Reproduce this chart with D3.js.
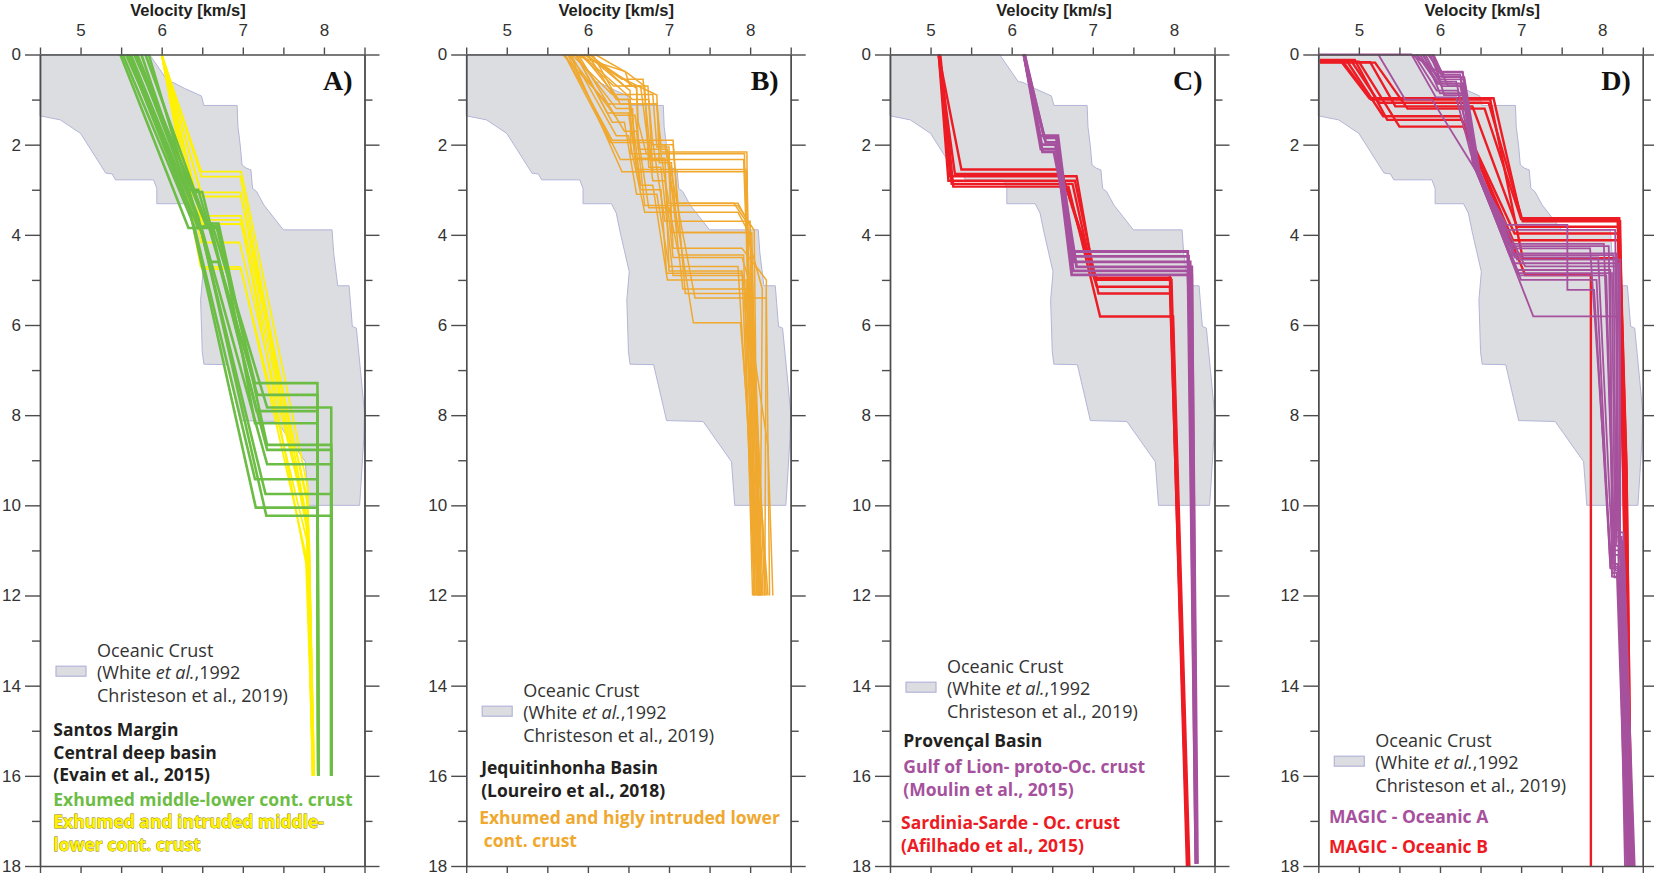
<!DOCTYPE html>
<html>
<head>
<meta charset="utf-8">
<script src="https://cdn.jsdelivr.net/npm/d3@7/dist/d3.min.js"></script>
<style>
html, body { margin: 0; padding: 0; background: #fff; }
svg text { font-family: "Open Sans", "Liberation Sans", sans-serif; }
</style>
</head>
<body>
<svg id="drawing_region" width="1654" height="878"></svg>
<script>
// axis ticks
const velocityTicks = [5, 6, 7, 8];
const depthTicks = [0, 2, 4, 6, 8, 10, 12, 14, 16, 18];
const panelLetters = ["A)", "B)", "C)", "D)"];

// oceanic crust envelope [velocity, depth] (White et al. 1992, Christeson et al. 2019)
const oceanicCrust = [
    [4.5,0],[5.85,0],[6.08,0.6],[6.14,0.62],[6.28,0.75],[6.49,0.92],[6.52,1.13],[6.93,1.13],
    [6.94,1.6],[6.97,2.04],[6.99,2.45],[7.04,2.52],[7.1,2.56],[7.12,2.97],[7.17,3.04],[7.26,3.34],
    [7.5,3.89],[8.1,3.89],[8.12,4.4],[8.17,5.13],[8.31,5.13],[8.35,6.03],[8.4,6.07],[8.45,7.0],
    [8.5,7.95],[8.49,8.55],[8.47,9.14],[8.45,9.72],[8.44,10.0],[7.81,10.0],[7.77,9.03],[7.42,8.14],
    [6.97,8.12],[6.81,6.88],[6.52,6.87],[6.5,6.59],[6.48,5.44],[6.51,4.82],[6.4,3.96],[6.35,3.52],
    [6.29,3.31],[5.94,3.31],[5.94,2.97],[5.9,2.78],[5.43,2.78],[5.39,2.65],[5.31,2.63],[5.0,1.75],
    [4.75,1.45],[4.5,1.36]
];

// A) Santos margin - exhumed middle-lower continental crust
const santosGreen = [
    [[5.49,0],[6.33,3.85],[6.68,3.85],[7.15,7.29],[7.92,7.29],[7.93,16]],
    [[5.56,0],[6.30,3.0],[6.45,3.0],[7.18,7.55],[7.92,7.55],[7.93,16]],
    [[5.60,0],[6.45,3.85],[6.62,3.75],[7.30,7.83],[8.09,7.83],[8.09,16]],
    [[5.66,0],[6.40,3.05],[6.50,3.05],[7.17,7.91],[7.92,7.91],[7.93,16]],
    [[5.70,0],[6.55,3.8],[6.70,3.8],[7.15,8.18],[7.92,8.18],[7.93,16]],
    [[5.80,0],[6.55,3.75],[6.70,3.75],[7.30,8.66],[8.09,8.66],[8.09,16]],
    [[5.84,0],[6.60,4.6],[6.70,4.6],[7.30,8.77],[8.09,8.77],[8.09,16]],
    [[5.62,0],[6.50,3.9],[7.30,9.09],[8.09,9.09],[8.09,16]],
    [[5.52,0],[6.40,3.8],[7.15,9.42],[7.92,9.42],[7.93,16]],
    [[5.75,0],[6.50,4.0],[7.28,9.75],[8.09,9.75],[8.09,16]],
    [[5.58,0],[6.35,3.5],[7.16,10.05],[7.92,10.05],[7.93,16]],
    [[5.68,0],[6.45,3.6],[7.29,10.23],[8.09,10.23],[8.09,16]]
];
// A) Santos margin - exhumed and intruded middle-lower continental crust
const santosYellow = [
    [[6.0,0],[6.49,2.6],[6.98,2.6],[7.80,9.6],[7.87,16]],
    [[6.0,0],[6.49,2.71],[6.97,2.71],[7.78,10.2],[7.86,16]],
    [[6.0,0],[6.48,3.06],[6.97,3.06],[7.80,10.0],[7.88,16]],
    [[6.0,0],[6.50,3.15],[6.98,3.15],[7.82,10.8],[7.87,16]],
    [[6.0,0],[6.49,3.58],[6.98,3.58],[7.79,9.8],[7.86,16]],
    [[6.0,0],[6.48,3.67],[6.97,3.67],[7.81,10.5],[7.88,16]],
    [[6.0,0],[6.50,3.76],[6.99,3.76],[7.78,11.3],[7.87,16]],
    [[6.0,0],[6.49,4.17],[6.96,4.17],[7.80,10.4],[7.86,16]],
    [[6.0,0],[6.48,4.71],[6.97,4.71],[7.82,11.0],[7.88,16]],
    [[6.0,0],[6.50,4.76],[6.98,4.76],[7.79,11.2],[7.87,16]]
];

// B) Jequitinhonha basin - exhumed and highly intruded lower continental crust
const jequitinhonha = [
    [[5.69,0],[6.25,1.1],[6.85,1.1],[6.9,2.16],[7.96,2.16],[7.97,4.0],[8.08,12]],
    [[5.72,0],[6.30,1.9],[7.05,1.9],[7.10,3.3],[7.85,3.3],[8.0,3.8],[8.10,12]],
    [[5.75,0],[6.40,2.33],[7.92,2.33],[7.95,3.9],[8.15,5.2],[8.12,12]],
    [[5.78,0],[6.42,2.6],[7.96,2.6],[7.98,4.5],[8.06,12]],
    [[5.80,0],[6.30,0.89],[6.80,0.89],[6.85,2.05],[7.0,2.05],[7.03,3.95],[8.0,3.95],[8.14,12]],
    [[5.82,0],[6.46,0.38],[6.52,0.7],[6.74,0.7],[6.80,2.6],[7.0,2.6],[7.05,4.3],[7.90,4.3],[8.20,5.0],[8.18,12]],
    [[5.84,0],[6.35,1.2],[6.55,1.2],[6.58,2.3],[6.95,2.3],[7.0,4.8],[7.9,4.8],[8.05,12]],
    [[5.86,0],[6.24,1.3],[6.50,1.3],[6.65,3.0],[6.90,3.0],[6.97,4.85],[7.90,4.85],[8.22,8.7],[8.28,12]],
    [[5.88,0],[6.45,1.7],[6.60,1.7],[6.70,3.35],[7.85,3.35],[8.05,3.9],[8.10,12]],
    [[5.90,0],[6.32,0.7],[6.60,0.7],[6.62,2.1],[6.98,2.1],[7.17,5.2],[8.0,5.2],[8.2,12]],
    [[5.92,0],[6.55,1.0],[6.75,1.0],[6.80,2.0],[6.95,2.0],[7.3,5.95],[7.88,5.95],[8.15,12]],
    [[5.95,0],[6.5,0.6],[6.85,0.9],[6.88,2.4],[7.03,2.4],[7.10,3.95],[8.02,3.95],[8.12,12]],
    [[5.98,0],[6.52,0.8],[6.53,2.2],[6.9,2.2],[7.0,3.3],[7.80,3.3],[7.95,3.7],[8.05,12]],
    [[6.00,0],[6.35,1.0],[6.50,1.0],[6.60,2.55],[7.95,2.55],[7.97,4.2],[8.09,12]],
    [[6.03,0],[6.45,0.7],[6.65,0.7],[6.80,2.8],[6.95,2.8],[7.05,4.5],[7.9,4.5],[8.0,5.1],[8.16,12]],
    [[6.06,0],[6.4,1.1],[6.85,1.1],[6.9,2.0],[7.05,2.0],[7.2,5.3],[7.95,5.3],[8.22,12]],
    [[6.09,0],[6.48,0.4],[6.70,0.7],[6.75,2.5],[6.90,2.5],[7.05,4.9],[7.92,4.9],[8.12,12]],
    [[5.85,0],[6.3,1.5],[6.45,1.5],[6.6,3.1],[6.85,3.1],[7.0,4.7],[7.85,4.7],[8.10,12]],
    [[5.79,0],[6.35,1.8],[6.5,1.8],[6.7,3.5],[7.85,3.5],[8.0,4.0],[8.18,12]],
    [[5.93,0],[6.38,1.0],[6.52,1.0],[6.65,2.9],[6.80,2.9],[6.98,5.0],[7.95,5.0],[8.05,12]],
    [[5.71,0],[6.28,1.95],[6.8,1.95],[6.95,3.7],[8.0,3.7],[8.06,12]],
    [[6.01,0],[6.6,0.75],[6.62,1.5],[6.72,2.2],[7.93,2.2],[7.95,3.6],[8.13,12]],
    [[5.76,0],[6.33,1.35],[6.58,1.35],[6.75,3.4],[7.0,3.4],[7.12,4.45],[7.92,4.45],[8.03,12]],
    [[5.96,0],[6.42,0.55],[6.68,0.55],[6.78,2.35],[7.0,2.35],[7.32,5.4],[8.2,5.4],[8.24,12]]
];

// C) Provencal basin
const gulfOfLion = [
    [[6.15,0],[6.35,1.8],[6.57,1.8],[6.75,4.37],[8.17,4.37],[8.27,17.95]],
    [[6.15,0],[6.38,2.16],[6.52,2.16],[6.78,4.48],[8.18,4.48],[8.27,17.95]],
    [[6.16,0],[6.40,1.85],[6.55,1.85],[6.80,4.71],[8.22,4.71],[8.28,17.95]],
    [[6.15,0],[6.36,2.1],[6.55,2.1],[6.74,4.89],[8.22,4.89],[8.29,17.95]],
    [[6.15,0],[6.42,1.95],[6.56,1.95],[6.77,4.6],[8.2,4.6],[8.28,17.95]],
    [[6.16,0],[6.37,2.0],[6.54,2.0],[6.76,4.8],[8.21,4.8],[8.28,17.95]]
];
const sardinia = [
    [[5.10,0],[5.38,2.55],[6.60,2.55],[7.05,5.0],[7.97,5.0],[8.18,18]],
    [[5.10,0],[5.30,2.65],[6.62,2.65],[7.05,5.15],[7.95,5.15],[8.17,18]],
    [[5.11,0],[5.24,2.7],[6.80,2.7],[7.02,4.96],[7.96,4.96],[8.18,18]],
    [[5.10,0],[5.22,2.8],[6.78,2.8],[7.07,5.3],[7.96,5.3],[8.17,18]],
    [[5.12,0],[5.28,2.93],[6.70,2.93],[7.09,5.81],[7.99,5.81],[8.19,18]],
    [[5.10,0],[5.26,2.87],[6.75,2.87],[7.0,4.9],[7.95,4.9],[8.16,18]]
];

// D) MAGIC profiles
const magicA = [
    [[4.5,0],[5.65,0],[5.97,0.38],[6.28,0.38],[6.45,2.5],[6.85,4.41],[8.18,4.41],[8.18,10.55],[8.22,10.55],[8.33,18]],
    [[5.24,0],[5.57,1.0],[5.9,1.0],[6.45,2.6],[6.9,4.63],[8.2,4.63],[8.17,10.9],[8.23,10.9],[8.35,18]],
    [[5.70,0],[5.99,0.49],[6.25,0.49],[6.42,2.5],[6.82,3.78],[7.57,3.78],[7.57,5.22],[7.9,5.22],[8.1,11.36],[8.2,11.36],[8.3,18]],
    [[5.75,0],[5.98,0.64],[6.29,0.64],[6.40,2.4],[6.95,4.78],[8.10,4.78],[8.12,11.58],[8.2,11.58],[8.32,18]],
    [[5.80,0],[6.0,0.86],[6.3,0.86],[6.45,2.6],[7.0,5.0],[7.93,5.0],[8.1,11.4],[8.22,11.4],[8.34,18]],
    [[5.85,0],[6.05,0.45],[6.25,0.45],[6.5,2.8],[7.15,5.81],[8.18,5.81],[8.2,10.8],[8.25,10.8],[8.36,18]],
    [[5.88,0],[6.0,0.55],[6.3,0.55],[6.45,2.45],[6.85,4.2],[8.02,4.2],[8.15,11.0],[8.22,11.0],[8.38,18]],
    [[5.90,0],[6.02,0.4],[6.28,0.4],[6.42,2.3],[6.9,4.3],[7.85,4.3],[8.12,11.5],[8.18,11.5],[8.3,18]],
    [[5.92,0],[6.1,0.7],[6.25,0.7],[6.48,2.6],[6.95,4.55],[8.22,4.55],[8.22,10.6],[8.26,10.6],[8.4,18]],
    [[5.65,0],[5.95,0.95],[6.2,0.95],[6.38,2.2],[6.8,3.89],[8.16,3.89],[8.2,11.0],[8.28,18]],
    [[5.78,0],[6.0,0.6],[6.2,0.6],[6.44,2.5],[6.92,4.5],[7.95,4.5],[8.13,11.3],[8.19,11.3],[8.33,18]],
    [[5.82,0],[6.02,0.7],[6.27,0.7],[6.46,2.55],[6.98,4.9],[8.05,4.9],[8.15,11.6],[8.21,11.6],[8.35,18]],
    [[5.68,0],[5.96,0.8],[6.22,0.8],[6.43,2.4],[6.88,4.45],[8.14,4.45],[8.17,10.7],[8.24,10.7],[8.37,18]],
    [[5.86,0],[6.03,0.5],[6.3,0.5],[6.5,2.7],[7.05,4.7],[8.21,4.7],[8.21,11.2],[8.27,11.2],[8.39,18]],
    [[5.72,0],[5.97,0.65],[6.26,0.65],[6.41,2.35],[6.86,4.25],[8.08,4.25],[8.14,11.1],[8.2,11.1],[8.31,18]],
    [[5.91,0],[6.05,0.9],[6.32,0.9],[6.47,2.6],[6.96,4.85],[8.12,4.85],[8.16,11.45],[8.23,11.45],[8.36,18]]
];
const magicB = [
    [[4.52,0.13],[4.77,0.13],[5.13,0.97],[6.66,0.97],[7.0,3.63],[8.21,3.63],[8.30,9.2],[8.36,18]],
    [[4.52,0.15],[4.91,0.15],[5.25,1.07],[6.60,1.07],[7.02,3.7],[8.22,3.7],[8.28,9.5],[8.35,18]],
    [[4.52,0.17],[5.14,0.17],[5.45,1.15],[6.40,1.15],[6.95,3.82],[8.20,3.82],[8.27,9.3],[8.34,18]],
    [[4.52,0.14],[4.85,0.14],[5.30,1.37],[6.25,1.37],[6.9,4.12],[8.2,4.12],[8.26,9.4],[8.35,18]],
    [[4.52,0.16],[5.0,0.16],[5.50,1.6],[6.29,1.6],[7.05,4.89],[7.86,4.89],[7.86,18]],
    [[4.52,0.12],[4.95,0.12],[5.35,1.45],[6.27,1.45],[6.92,3.97],[8.21,3.97],[8.28,9.2],[8.34,18]],
    [[4.52,0.15],[4.80,0.15],[5.15,1.0],[6.62,1.0],[7.02,4.52],[8.22,4.52],[8.3,9.3],[8.36,18]],
    [[4.52,0.18],[5.20,0.18],[5.6,1.2],[6.55,1.2],[7.0,3.65],[8.19,3.65],[8.26,9.5],[8.33,18]]
];

// legend texts
const titleText = "Velocity [km/s]";
const crustLabel = ["Oceanic Crust", ["(White ", "et al.", ",1992"], "Christeson et al., 2019)"];
const santosTitle = ["Santos Margin", "Central deep basin", "(Evain et al., 2015)"];
const santosGreenLabel = ["Exhumed middle-lower cont. crust"];
const santosYellowLabel = ["Exhumed and intruded middle-", "lower cont. crust"];
const jequiTitle = ["Jequitinhonha Basin", "(Loureiro et al., 2018)"];
const jequiLabel = ["Exhumed and higly intruded lower", " cont. crust"];
const provencalTitle = ["Provençal Basin"];
const lionLabel = ["Gulf of Lion- proto-Oc. crust", "(Moulin et al., 2015)"];
const sardiniaLabel = ["Sardinia-Sarde - Oc. crust", "(Afilhado et al., 2015)"];
const magicALabel = ["MAGIC - Oceanic A"];
const magicBLabel = ["MAGIC - Oceanic B"];

const INK = "#231f20", GREEN = "#6cbd45", YELLOW = "#fff200", ORANGE = "#f0a82e",
      RED = "#ed1c24", PURPLE = "#a6519d", AXIS = "#4d4d4d";

const panels = [
    {left: 40, titleX: 148, legendY: 656.7,
     series: [{data: santosYellow, color: YELLOW, width: 1.8}, {data: santosGreen, color: GREEN, width: 2.6}],
     notes: [{lines: santosTitle, color: INK, x: 13.3, y: 736},
             {lines: santosGreenLabel, color: GREEN, x: 13.3, y: 805.7},
             {lines: santosYellowLabel, color: YELLOW, x: 13.3, y: 828.3, outline: "#8a7c00"}]},
    {left: 466.2, titleX: 150, legendY: 696.7,
     series: [{data: jequitinhonha, color: ORANGE, width: 1.5}],
     notes: [{lines: jequiTitle, color: INK, x: 15, y: 774.3},
             {lines: jequiLabel, color: ORANGE, x: 13, y: 824.3}]},
    {left: 890, titleX: 164, legendY: 672.7,
     series: [{data: sardinia, color: RED, width: 2.4}, {data: gulfOfLion, color: PURPLE, width: 2.8}],
     notes: [{lines: provencalTitle, color: INK, x: 13.3, y: 747.3},
             {lines: lionLabel, color: PURPLE, x: 13.3, y: 773.3},
             {lines: sardiniaLabel, color: RED, x: 11, y: 829.3}]},
    {left: 1318.3, titleX: 164, legendY: 746.7,
     series: [{data: magicB, color: RED, width: 2.4}, {data: magicA, color: PURPLE, width: 1.8}],
     notes: [{lines: magicALabel, color: PURPLE, x: 10.7, y: 823.3},
             {lines: magicBLabel, color: RED, x: 10.7, y: 853.3}]}
];

const svg = d3.select('#drawing_region');
const panelWidth = 324.5;
const yscale = d3.scaleLinear().domain([0, 18]).range([54.5, 866]);
const axisFont = '"Liberation Sans", Arial, sans-serif';

panels.forEach((p, i) => {
    const xscale = d3.scaleLinear().domain([4.5, 8.5]).range([p.left, p.left + panelWidth]);
    const g = svg.append('g');
    const line = d3.line().x(d => xscale(d[0])).y(d => yscale(d[1]));

    g.append('path')
        .attr('d', line(oceanicCrust) + 'Z')
        .attr('fill', '#dcdde0')
        .attr('stroke', '#b3b5d9')
        .attr('stroke-width', 1);

    p.series.forEach(s => {
        g.append('g').selectAll('path').data(s.data).enter()
            .append('path')
            .attr('d', d => line(d))
            .attr('fill', 'none')
            .attr('stroke', s.color)
            .attr('stroke-width', s.width)
            .attr('stroke-linejoin', 'miter')
            .attr('stroke-miterlimit', 2);
    });

    // axes
    const halfSteps = d3.range(4.5, 8.51, 0.5);
    const fmt = v => velocityTicks.includes(v) ? String(v) : "";
    const top = g.append('g').attr('transform', `translate(0,${yscale(0)})`)
        .call(d3.axisTop(xscale).tickValues(halfSteps).tickSize(7).tickSizeOuter(0).tickPadding(12).tickFormat(fmt));
    const bottom = g.append('g').attr('transform', `translate(0,${yscale(18)})`)
        .call(d3.axisBottom(xscale).tickValues(halfSteps).tickSize(7).tickSizeOuter(0).tickFormat(''));
    const oddDepths = d3.range(1, 18, 2);
    const left = g.append('g').attr('transform', `translate(${p.left},0)`)
        .call(d3.axisLeft(yscale).tickValues(depthTicks).tickSize(15).tickSizeOuter(0).tickPadding(4));
    const leftMinor = g.append('g').attr('transform', `translate(${p.left},0)`)
        .call(d3.axisLeft(yscale).tickValues(oddDepths).tickSize(8).tickSizeOuter(0).tickFormat(''));
    const right = g.append('g').attr('transform', `translate(${p.left + panelWidth},0)`)
        .call(d3.axisRight(yscale).tickValues(depthTicks).tickSize(15).tickSizeOuter(0).tickFormat(''));
    const rightMinor = g.append('g').attr('transform', `translate(${p.left + panelWidth},0)`)
        .call(d3.axisRight(yscale).tickValues(oddDepths).tickSize(8).tickSizeOuter(0).tickFormat(''));

    [top, bottom, left, leftMinor, right, rightMinor].forEach(a => {
        a.selectAll('path, line').attr('stroke', AXIS).attr('stroke-width', 1.4);
        a.selectAll('text').attr('fill', '#333').style('font-size', '17px')
            .style('font-family', axisFont);
    });

    g.append('text')
        .attr('x', p.left + p.titleX).attr('y', 15.5)
        .attr('text-anchor', 'middle')
        .style('font-family', axisFont)
        .style('font-size', '16.5px').style('font-weight', 'bold')
        .attr('fill', INK)
        .text(titleText);

    g.append('text')
        .attr('x', p.left + panelWidth - 12).attr('y', 90)
        .attr('text-anchor', 'end')
        .style('font-family', '"Liberation Serif", "Times New Roman", serif')
        .style('font-size', '28px').style('font-weight', 'bold')
        .attr('fill', '#111')
        .text(panelLetters[i]);

    // legend: oceanic crust swatch
    g.append('rect')
        .attr('x', p.left + 16).attr('y', p.legendY + 9.5)
        .attr('width', 30).attr('height', 10)
        .attr('fill', '#dcdde0').attr('stroke', '#b3b5d9').attr('stroke-width', 1.2);

    crustLabel.forEach((ln, k) => {
        const t = g.append('text')
            .attr('x', p.left + 57).attr('y', p.legendY + k * 22.5)
            .attr('fill', '#333').style('font-size', '18px');
        if (Array.isArray(ln)) {
            ln.forEach((part, j) => {
                t.append('tspan').text(part).style('font-style', j === 1 ? 'italic' : 'normal');
            });
        } else {
            t.text(ln);
        }
    });

    p.notes.forEach(n => {
        n.lines.forEach((ln, k) => {
            const t = g.append('text')
                .attr('x', p.left + n.x).attr('y', n.y + k * 22.5)
                .attr('fill', n.color)
                .style('font-size', '17.5px').style('font-weight', 'bold')
                .style('white-space', 'pre')
                .text(ln);
            if (n.outline) {
                t.attr('stroke', n.outline).attr('stroke-width', 0.8).style('paint-order', 'stroke');
            }
        });
    });
});
</script>
</body>
</html>
